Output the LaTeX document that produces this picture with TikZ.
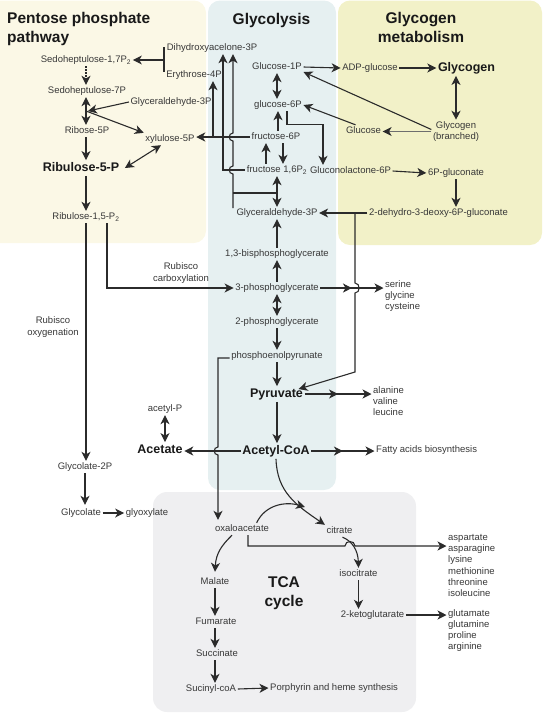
\documentclass[tikz,border=0pt]{standalone}
\usepackage{fontspec}
\setmainfont{Liberation Sans}
\usetikzlibrary{arrows.meta,decorations.markings}
\definecolor{pppbg}{HTML}{FBF8E6}
\definecolor{glybg}{HTML}{E6F0F1}
\definecolor{gcgbg}{HTML}{F2F1C8}
\definecolor{tcabg}{HTML}{EFEFF1}
\definecolor{ink}{HTML}{2B2B2B}
\definecolor{txt}{HTML}{383838}
\definecolor{grayline}{HTML}{6E6E6E}
\tikzset{
  stl/.tip={Stealth[length=9pt,width=9pt,inset=2.6pt]},
  lbl/.style={font=\fontsize{9.5}{11.3}\selectfont, text=txt, inner sep=1.5pt, text height=7pt, text depth=2pt},
  two/.style={font=\fontsize{9.5}{11.3}\selectfont, text=txt, inner sep=1.5pt, align=center},
  lst/.style={font=\fontsize{9.5}{11.3}\selectfont, text=txt, inner sep=1.5pt, align=left, anchor=west},
  big/.style={font=\fontsize{12.5}{14}\selectfont\bfseries, text=black!90, inner sep=1.5pt, text height=9.5pt, text depth=3pt},
  ttl/.style={font=\fontsize{15.5}{19.5}\selectfont\bfseries, text=black!90, inner sep=0pt},
  ln/.style={draw=ink, line width=1.1pt},
  arr/.style={ln, -{stl}},
  dbl/.style={ln, {stl}-{stl}},
  twostep/.style={arr, decoration={markings, mark=at position 0.5 with {\arrow{stl}}}, postaction={decorate}},
}
\begin{document}
\begin{tikzpicture}[x=1pt,y=-1pt]
\useasboundingbox (0,0) rectangle (543,716);
% ---------- background regions
\fill[pppbg, rounded corners=12pt] (-20,0.5) rectangle (206,243);
\fill[gcgbg, rounded corners=12pt] (338,0.5) rectangle (542,245);
\fill[glybg, rounded corners=12pt] (208,0.5) rectangle (336,490);
\fill[tcabg, rounded corners=14pt] (153,492) rectangle (416,712);
% ---------- titles
\node[ttl, align=left, anchor=north west] (tppp) at (7,12) {Pentose phosphate\\pathway};
\node[ttl, anchor=base] (tgly) at (271.5,24.5) {Glycolysis};
\node[ttl, align=center, anchor=north] (tgcg) at (421,12) {Glycogen\\metabolism};
\node[ttl, align=center] (tca) at (284,593) {TCA\\cycle};
% ---------- pentose phosphate nodes
\node[lbl] (sed17) at (86,60) {Sedoheptulose-1,7P\textsubscript{2}};
\node[lbl] (sed7) at (87,91) {Sedoheptulose-7P};
\node[lbl] (g3pL) at (171,102) {Glyceraldehyde-3P};
\node[lbl] (rib5) at (87,131) {Ribose-5P};
\node[lbl] (xyl) at (170,139) {xylulose-5P};
\node[big] (ru5) at (81,168) {Ribulose-5-P};
\node[lbl] (ru15) at (86,217) {Ribulose-1,5-P\textsubscript{2}};
\node[two] (rubc) at (181,273) {Rubisco\\carboxylation};
\node[two] (rubo) at (53,327) {Rubisco\\oxygenation};
\node[lbl] (glc2p) at (85,467) {Glycolate-2P};
\node[lbl] (glcl) at (81,513) {Glycolate};
\node[lbl] (glyox) at (147,513) {glyoxylate};
% ---------- glycolysis nodes
\node[lbl] (dhap) at (212,48) {Dihydroxyacelone-3P};
\node[lbl] (e4p) at (194,75) {Erythrose-4P};
\node[lbl] (g1p) at (277,67) {Glucose-1P};
\node[lbl] (g6p) at (278,105) {glucose-6P};
\node[lbl] (f6p) at (276,137) {fructose-6P};
\node[lbl] (f16) at (277,170) {fructose 1,6P\textsubscript{2}};
\node[lbl] (glac) at (350.5,171) {Gluconolactone-6P};
\node[lbl] (g3p) at (277,213) {Glyceraldehyde-3P};
\node[lbl] (bpg) at (277,254) {1,3-bisphosphoglycerate};
\node[lbl] (pg3) at (277,288) {3-phosphoglycerate};
\node[lbl] (pg2) at (277,322) {2-phosphoglycerate};
\node[lbl] (pep) at (277,356) {phosphoenolpyrunate};
\node[big] (pyr) at (276.5,394) {Pyruvate};
\node[big] (acoa) at (276,451) {Acetyl-CoA};
\node[big] (acet) at (160,450) {Acetate};
\node[lbl] (acp) at (165,409) {acetyl-P};
\node[lst] (ser) at (383.5,296) {serine\\glycine\\cysteine};
\node[lst] (ala) at (371.5,401) {alanine\\valine\\leucine};
\node[lbl, anchor=west] (fatty) at (374.5,450) {Fatty acids biosynthesis};
% ---------- glycogen nodes
\node[lbl] (adpg) at (370,68) {ADP-glucose};
\node[big] (glycogen) at (466.5,68) {Glycogen};
\node[two] (glyb) at (456,131.5) {Glycogen\\(branched)};
\node[lbl] (glu) at (363.5,131) {Glucose};
\node[lbl] (p6g) at (456,173) {6P-gluconate};
\node[lbl] (kdpg) at (438.5,213) {2-dehydro-3-deoxy-6P-gluconate};
% ---------- TCA nodes
\node[lbl] (oaa) at (242,529) {oxaloacetate};
\node[lbl] (cit) at (339.5,531) {citrate};
\node[lbl] (icit) at (358.5,574) {isocitrate};
\node[lbl] (akg) at (372.5,615) {2-ketoglutarate};
\node[lst] (asp) at (446.5,565.5) {aspartate\\asparagine\\lysine\\methionine\\threonine\\isoleucine};
\node[lst] (glut) at (446.5,630.5) {glutamate\\glutamine\\proline\\arginine};
\node[lbl] (mal) at (215,582) {Malate};
\node[lbl] (fum) at (216,622) {Fumarate};
\node[lbl] (suc) at (217,654) {Succinate};
\node[lbl] (sca) at (211,689) {Sucinyl-coA};
\node[lbl, anchor=west] (porph) at (268.5,688) {Porphyrin and heme synthesis};
% ---------- pentose phosphate connectors
\coordinate (bar) at (164,60);
\draw[ln] ([yshift=13pt]bar) -- ([yshift=-12pt]bar);
\draw[arr] (bar) -- (sed17.east);
\draw[arr, dash pattern=on 1.6pt off 1.4pt] (sed17.south) -- (sed17.south |- sed7.north);
\draw[dbl] (sed17.south |- sed7.south) -- (sed17.south |- rib5.north);
\coordinate (pj) at (86,111);
\draw[arr] (g3pL.west) -- ([xshift=2pt]pj);
\draw[arr] (pj) -- (xyl.north west);
\draw[arr] (sed17.south |- rib5.south) -- (sed17.south |- ru5.north);
\draw[dbl] ([xshift=4pt]ru5.east) -- ([xshift=-9pt]xyl.south);
\draw[arr] (ru5.south -| ru15.north) -- (ru15.north);
\draw[arr] (ru15.south) -- (ru15.south |- glc2p.north);
\draw[arr] ([xshift=21pt]ru15.south) |- (pg3.west);
\draw[arr] (glc2p.south) -- ([yshift=2pt]glc2p.south |- glcl.north);
\draw[arr] (glcl.east) -- (glyox.west);
% ---------- glycolysis connectors
\draw[dbl] (g1p.south) -- (g1p.south |- g6p.north);
\draw[arr] (g6p.south |- f6p.north) -- (g6p.south);
\coordinate (cR) at ([xshift=5pt]g6p.south);
\coordinate (cL) at ([xshift=-12pt]g6p.south);
\draw[arr] (cR |- f6p.south) -- (cR |- f16.north);
\draw[arr] (cL |- f16.north) -- (cL |- f6p.south);
\draw[dbl] (g3p.north |- f16.south) -- (g3p.north);
\coordinate (j1) at (g3p.north |- 0,193);
\coordinate (vx) at (233,208);
\draw[ln] (j1) -- (vx |- j1);
\draw[arr] (vx) -- (233,174) .. controls (228,174) and (228,166) .. (233,166)
  -- (233,141) .. controls (228,141) and (228,133) .. (233,133) -- (vx |- dhap.south);
\draw[arr] (f16.west) -- (223,0 |- f16.west) -- (223,0 |- dhap.south);
\draw[arr] (f6p.west) -- (f6p.west -| xyl.east);
\coordinate (ej) at (213,0 |- f6p.west);
\draw[arr] (ej) -- (ej |- e4p.south);
\draw[arr] ([xshift=9pt]g6p.south) -- ++(0,13) -| (323,0 |- glac.north);
\draw[arr] (g1p.east) -- (adpg.west);
\draw[arr] (adpg.east) -- (glycogen.west);
\draw[dbl] (glycogen.south -| glyb.north) -- (glyb.north);
\draw[draw=grayline, line width=1.4pt, -{Stealth[length=9pt,width=9pt,inset=2.6pt,color=ink]}] (glyb.west) -- (glyb.west -| glu.east);
\draw[arr] ([yshift=2pt]glyb.west) -- ([yshift=-5pt]g1p.east);
\draw[arr] ([xshift=-8pt]glu.north) -- (g6p.east);
\draw[arr] (glac.east) -- (p6g.west);
\draw[arr] (p6g.south) -- (p6g.south |- kdpg.north);
\draw[arr] (kdpg.west) -- (g3p.east);
\coordinate (kj) at (355,0 |- kdpg.west);
\draw[arr] (kj) -- (355,283) .. controls (360.5,283) and (360.5,293) .. (355,293)
  -- (355,372) -- ([xshift=-6pt,yshift=-3pt]pyr.north east);
\draw[arr] (g3p.south |- bpg.north) -- (g3p.south);
\draw[arr] (g3p.south |- pg3.north) -- (g3p.south |- bpg.south);
\draw[dbl] (g3p.south |- pg3.south) -- (g3p.south |- pg2.north);
\draw[arr] (g3p.south |- pg2.south) -- (g3p.south |- pep.north);
\draw[arr] (g3p.south |- pep.south) -- (g3p.south |- pyr.north);
\draw[arr] (g3p.south |- pyr.south) -- (g3p.south |- acoa.north);
\draw[twostep] (pg3.east) -- (pg3.east -| ser.west);
\draw[twostep] (pyr.east) -- (pyr.east -| ala.west);
\draw[twostep] (acoa.east) -- (acoa.east -| fatty.west);
\draw[arr] (acoa.west) -- (acoa.west -| acet.east);
\draw[dbl] (acp.south) -- (acp.south |- acet.north);
\draw[arr, shorten >=3pt] ([yshift=-2pt]pep.west) -| (218,447)
  .. controls (213,447) and (213,455) .. (218,455) -- (218,0 |- oaa.north);
% ---------- TCA connectors
\coordinate (mrg) at (305,507);
\draw[arr] (acoa.south) .. controls (277,492) and (296,505) .. (cit.north west);
\draw[arr] ([xshift=-14pt]oaa.north east) .. controls (265,505) and (285,501) .. (mrg);
\draw[arr] ([xshift=6pt]oaa.south) -- (248,546) -- (345,546)
  .. controls (345,540) and (355,540) .. (355,546) -- (asp.west |- 0,546);
\draw[arr] ([xshift=3pt]cit.south) .. controls (352,541) and (358,550) .. (icit.north);
\draw[arr] (icit.south) -- (icit.south |- akg.north);
\draw[arr] (akg.east) -- (akg.east -| glut.west);
\draw[arr] ([xshift=-10pt]oaa.south) .. controls (222,545) and (216,553) .. ([yshift=4pt]mal.north);
\draw[arr] (mal.south) -- (mal.south |- fum.north);
\draw[arr] (mal.south |- fum.south) -- (mal.south |- suc.north);
\draw[arr] (mal.south |- suc.south) -- (mal.south |- sca.north);
\draw[arr] (sca.east) -- (porph.west);
\end{tikzpicture}
\end{document}
